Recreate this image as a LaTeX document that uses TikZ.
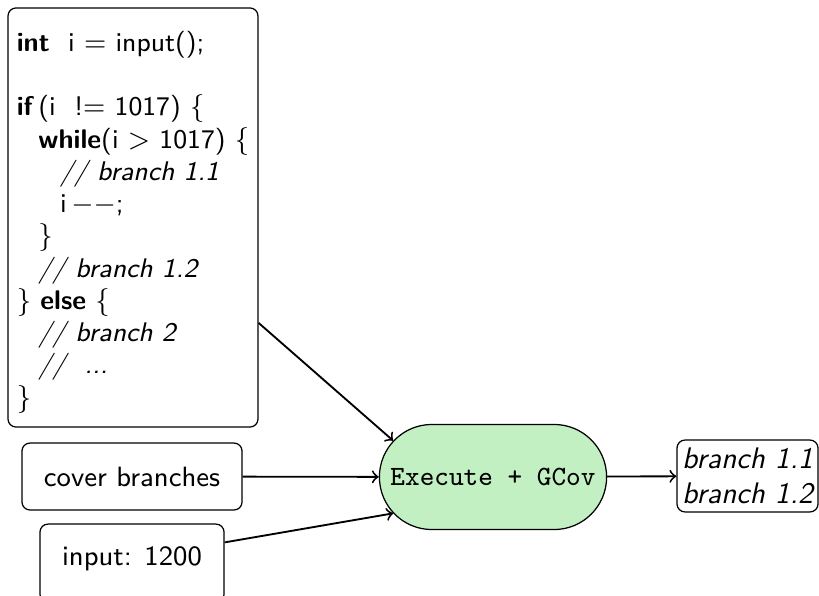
\documentclass[tikz,border=0pt]{standalone}
\usepackage{fontspec}
\usetikzlibrary{shapes.misc,calc}
\definecolor{execgreen}{RGB}{194,240,194}
\newcommand{\ind}{\hspace*{7pt}}
\begin{document}
\begin{tikzpicture}[
  x=0.3226pt, y=-0.3226pt,
  box/.style={draw, rounded corners=2.6pt, font={\sffamily\fontsize{9}{10.8}\selectfont}},
  flow/.style={->, semithick},
]
\useasboundingbox (0,0) rectangle (819,595);

% source listing
\node[box, minimum width=80.65pt, minimum height=135.2pt, inner xsep=2pt, align=left,
      font={\sffamily\fontsize{8.7}{10.4}\selectfont}] (code) at (133,217.5)
{\rule{0pt}{9.5pt}\textbf{int}\ \ i $=$ input();\\
 \\
 \textbf{if}\,(i\ \ !$=$ 1017) $\{$\\
 \ind\textbf{while}(i $>$ 1017) $\{$\\
 \ind\ind\textit{// branch 1.1}\\
 \ind\ind i\,$-{}-$;\\
 \ind$\}$\\
 \ind\textit{// branch 1.2}\\
 $\}$ \textbf{else} $\{$\\
 \ind\textit{// branch 2}\\
 \ind\textit{//\ \ ...}\\
 $\}$};

% inputs
\node[box, minimum width=71pt, minimum height=21.6pt] (cover) at (132,476.5) {cover branches};
\node[box, minimum width=59.4pt, inner ysep=3pt, text height=10.2pt, text depth=9pt,
      anchor=base] (input) at (132,565) {input: 1200};

% executor
\node[draw, rounded rectangle, fill=execgreen, minimum width=73.2pt, minimum height=33.9pt,
      font={\ttfamily\fontsize{9}{10.8}\selectfont}] (exec) at (493,477) {Execute + GCov};

% result
\node[box, minimum width=45.5pt, minimum height=23.2pt, inner sep=1.5pt, align=left,
      font={\sffamily\itshape\fontsize{9.6}{11.3}\selectfont}] (out) at (747.5,476)
{branch 1.1\\branch 1.2};

\draw[flow] (code.-40) -- (exec.160);
\draw[flow] (cover) -- (exec);
\draw[flow] ([yshift=-6.1pt]input.north east) -- (exec.200);
\draw[flow] (exec) -- (out);
\end{tikzpicture}
\end{document}
